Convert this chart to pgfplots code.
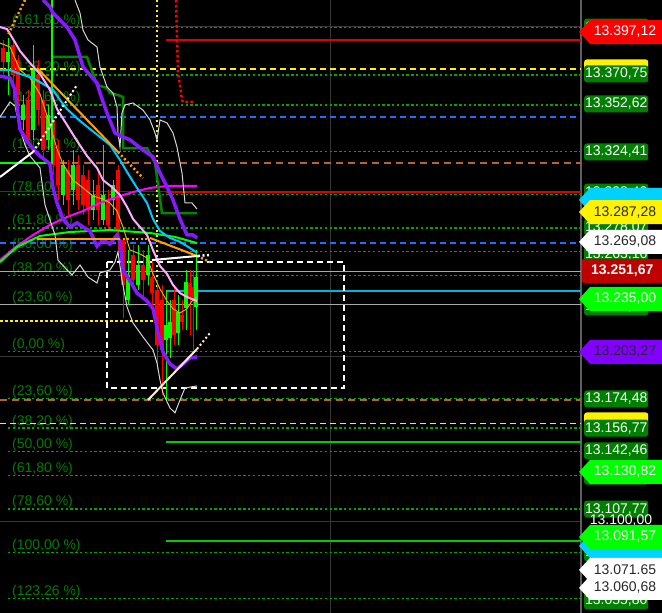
\documentclass[border=0pt]{standalone}
\usepackage{pgfplots}
\pgfplotsset{compat=1.18}
\usepackage{fontspec}
\setmainfont{Liberation Sans}
\definecolor{fibline}{RGB}{0,165,0}
\definecolor{fibtext}{RGB}{0,125,0}
\definecolor{tagG}{RGB}{0,128,0}
\definecolor{brightG}{RGB}{0,255,0}
\definecolor{candR}{RGB}{255,0,0}
\definecolor{purp}{RGB}{135,25,255}
\definecolor{cyanL}{RGB}{0,200,255}
\definecolor{pinkL}{RGB}{255,170,255}
\definecolor{magL}{RGB}{255,0,255}
\definecolor{dkG}{RGB}{0,135,0}
\definecolor{goldL}{RGB}{230,180,0}
\definecolor{orangeL}{RGB}{255,160,0}
\definecolor{whiteL}{RGB}{215,215,215}
\definecolor{brownD}{RGB}{180,100,50}
\definecolor{blueD}{RGB}{30,110,255}
\definecolor{gridG}{RGB}{55,55,55}
\definecolor{lgray}{RGB}{170,170,170}
\definecolor{redL}{RGB}{220,0,0}
\definecolor{darkred}{RGB}{190,0,0}
\definecolor{tagCyan}{RGB}{0,210,255}
\definecolor{tagPurple}{RGB}{130,0,255}
\definecolor{cyanH}{RGB}{0,180,210}
\definecolor{tagText}{RGB}{40,40,40}
\newcommand{\tagfont}{\fontsize{14pt}{16pt}\selectfont}
\tikzset{gtag/.style={anchor=west, fill=tagG, rounded corners=2.5pt, minimum width=64pt, minimum height=17pt, inner sep=0pt, text=white, font=\tagfont}}
\newcommand{\gtag}[2]{\node[gtag] at ([xshift=3pt]axis cs:581,#1) {#2};}
\newcommand{\ytag}[1]{\node[gtag, fill=yellow] at ([xshift=3pt]axis cs:581,#1) {};}
\newcommand{\atag}[4]{%
 \fill[#2] ([xshift=-2pt]axis cs:581,#1) -- ++(11pt,12pt) -- ++(72pt,0pt) -- ++(0pt,-24pt) -- ++(-72pt,0pt) -- cycle;
 \node[text=#3, font=\tagfont, anchor=center] at ([xshift=44pt]axis cs:581,#1) {#4};}
\newcommand{\fib}[2]{%
 \addplot[fibline, line width=1.2pt, dash pattern=on 2.4pt off 2.4pt] coordinates {(8,#1) (581,#1)};
 \node[text=fibtext, anchor=base west, font=\tagfont, inner sep=0pt] at ([yshift=3pt]axis cs:12,#1) {#2};}
\begin{document}
\begin{tikzpicture}
\fill[black] (0,0) rectangle (662pt,613pt);
\begin{axis}[at={(0pt,0pt)}, anchor=south west, scale only axis, width=581pt, height=613pt,
  xmin=0, xmax=581, ymin=13044.7, ymax=13416.2, axis lines=none, xtick=\empty, ytick=\empty, clip=false]
% grid
\addplot[gridG, line width=1pt] coordinates {(0,13400) (581,13400)};
\addplot[gridG, line width=1pt] coordinates {(0,13300) (581,13300)};
\addplot[gridG, line width=1pt] coordinates {(0,13200) (581,13200)};
\addplot[gridG, line width=1pt] coordinates {(0,13100) (581,13100)};
\addplot[gridG, line width=1pt] coordinates {(330,13044.7) (330,13416.2)};
\addplot[gridG!80!white, line width=1.5pt] coordinates {(581,13044.7) (581,13416.2)};
% fib levels
\fib{13399.5}{(161,80 \%)}
\fib{13370.75}{(138,20 \%)}
\fib{13352.62}{(123,60 \%)}
\fib{13324.41}{(100,00 \%)}
\fib{13298.4}{(78,60 \%)}
\fib{13278.07}{(61,80 \%)}
\fib{13263.7}{(50,00 \%)}
\fib{13249.3}{(38,20 \%)}
\fib{13231.6}{(23,60 \%)}
\fib{13203.0}{(0,00 \%)}
\fib{13174.48}{(23,60 \%)}
\fib{13156.77}{(38,20 \%)}
\fib{13142.46}{(50,00 \%)}
\fib{13128.0}{(61,80 \%)}
\fib{13107.77}{(78,60 \%)}
\fib{13081.3}{(100,00 \%)}
\fib{13053.5}{(123,26 \%)}
% horizontal level lines
\addplot[lgray, line width=1pt] coordinates {(0,13251.4) (581,13251.4)};
\addplot[lgray, line width=1pt] coordinates {(0,13231.4) (581,13231.4)};
\addplot[yellow, line width=1.2pt, dash pattern=on 6pt off 4pt] coordinates {(0,13374.4) (581,13374.4)};
\addplot[yellow, line width=1.2pt, dash pattern=on 6pt off 4pt] coordinates {(0,13159.5) (581,13159.5)};
\addplot[blueD, line width=1.2pt, dash pattern=on 6pt off 4pt] coordinates {(0,13345.3) (581,13345.3)};
\addplot[blueD, line width=1.2pt, dash pattern=on 6pt off 4pt] coordinates {(0,13268.9) (581,13268.9)};
\addplot[brownD, line width=2pt, dash pattern=on 7pt off 5pt] coordinates {(0,13317.4) (581,13317.4)};
\addplot[brownD, line width=2pt, dash pattern=on 7pt off 5pt] coordinates {(0,13173.8) (581,13173.8)};
\addplot[redL, line width=2pt] coordinates {(166,13392.0) (581,13392.0)};
\addplot[redL, line width=2pt] coordinates {(166,13299.8) (581,13299.8)};
\addplot[cyanH, line width=2.5pt] coordinates {(166,13239.9) (581,13239.9)};
\addplot[brightG!80!black, line width=2pt] coordinates {(166,13148.4) (581,13148.4)};
\addplot[brightG!80!black, line width=2pt] coordinates {(166,13088.3) (581,13088.3)};
\addplot[white, line width=1.2pt, dash pattern=on 6pt off 4pt] coordinates {(107,13257.4) (344,13257.4) (344,13181.1) (107,13181.1) (107,13257.4)};
% yellow dotted cross
\addplot[yellow, line width=2.5pt, dash pattern=on 2.5pt off 2.5pt] coordinates {(157,13416.2) (157,13221.7) (0,13221.7)};
% red dotted curve
\addplot[candR, line width=2.5pt, dash pattern=on 2.5pt off 2.5pt] coordinates {(176,13416.2) (178,13372.0) (180,13364.7) (182,13355.6) (183,13354.4) (195,13354.4)};
% candles
\addplot[candR, line width=1pt, unbounded coords=jump] coordinates {
(3,13392.0)(3,13370.8)(3,nan)(13,13390.7)(13,13355.6)(13,nan)(18,13382.9)(18,13352.6)(18,nan)
(28,13361.7)(28,13328.3)(28,nan)(38,13379.8)(38,13340.5)(38,nan)(43,13361.7)(43,13319.2)(43,nan)
(53,13346.5)(53,13310.2)(53,nan)(58,13331.4)(58,13295.0)(58,nan)(68,13319.2)(68,13285.9)(68,nan)
(78,13322.3)(78,13288.9)(78,nan)(83,13316.2)(83,13285.9)(83,nan)(88,13313.2)(88,13279.9)(88,nan)
(98,13313.2)(98,13279.9)(98,nan)(108,13301.1)(108,13276.8)(108,nan)(118,13316.2)(118,13264.7)(118,nan)
(123,13270.8)(123,13223.5)(123,nan)(133,13267.7)(133,13240.5)(133,nan)(143,13264.7)(143,13234.4)(143,nan)
(152,13258.6)(152,13231.4)(152,nan)(157,13246.5)(157,13192.0)(157,nan)(162,13243.5)(162,13176.8)(162,nan)
(174,13243.5)(174,13207.1)(174,nan)(182,13234.4)(182,13216.2)(182,nan)(190,13252.6)(190,13213.2)(190,nan)
(193,13252.6)(193,13204.1)};
\addplot[candR, line width=3.2pt, unbounded coords=jump] coordinates {
(3,13387.1)(3,13378.6)(3,nan)(13,13388.9)(13,13370.8)(13,nan)(18,13379.8)(18,13358.6)(18,nan)
(28,13355.6)(28,13331.4)(28,nan)(38,13370.8)(38,13349.5)(38,nan)(43,13355.6)(43,13325.3)(43,nan)
(53,13343.5)(53,13316.2)(53,nan)(58,13325.3)(58,13304.1)(58,nan)(68,13313.2)(68,13295.0)(68,nan)
(78,13316.2)(78,13295.0)(78,nan)(83,13310.2)(83,13292.0)(83,nan)(88,13307.1)(88,13288.9)(88,nan)
(98,13304.1)(98,13288.9)(98,nan)(108,13295.0)(108,13279.9)(108,nan)(118,13313.2)(118,13276.8)(118,nan)
(123,13270.8)(123,13243.5)(123,nan)(133,13261.7)(133,13246.5)(133,nan)(143,13255.6)(143,13246.5)(143,nan)
(152,13248.3)(152,13238.6)(152,nan)(157,13240.5)(157,13207.1)(157,nan)(162,13234.4)(162,13204.1)(162,nan)
(174,13234.4)(174,13213.2)(174,nan)(182,13225.3)(182,13221.1)(182,nan)(190,13244.7)(190,13236.2)(190,nan)
(193,13242.3)(193,13234.4)};
\addplot[brightG, line width=1pt, unbounded coords=jump] coordinates {
(8,13393.2)(8,13358.6)(8,nan)(23,13358.6)(23,13337.4)(23,nan)(33,13388.9)(33,13331.4)(33,nan)
(48,13352.6)(48,13325.3)(48,nan)(63,13319.2)(63,13292.0)(63,nan)(73,13325.3)(73,13292.0)(73,nan)
(93,13307.1)(93,13282.9)(93,nan)(103,13328.3)(103,13279.9)(103,nan)(113,13307.1)(113,13285.9)(113,nan)
(128,13264.7)(128,13231.4)(128,nan)(138,13267.7)(138,13240.5)(138,nan)(148,13267.7)(148,13243.5)(148,nan)
(166,13240.5)(166,13173.8)(166,nan)(170,13234.4)(170,13199.3)(170,nan)(178,13237.4)(178,13207.1)(178,nan)
(186,13252.6)(186,13216.2)(186,nan)(196,13264.7)(196,13216.2)};
\addplot[brightG, line width=3.2pt, unbounded coords=jump] coordinates {
(8,13384.7)(8,13378.6)(8,nan)(23,13352.6)(23,13343.5)(23,nan)(33,13373.8)(33,13337.4)(33,nan)
(48,13346.5)(48,13331.4)(48,nan)(63,13316.2)(63,13298.0)(63,nan)(73,13316.2)(73,13301.1)(73,nan)
(93,13298.0)(93,13288.9)(93,nan)(103,13298.0)(103,13282.9)(103,nan)(113,13304.1)(113,13295.0)(113,nan)
(128,13249.6)(128,13234.4)(128,nan)(138,13255.6)(138,13243.5)(138,nan)(148,13261.7)(148,13249.6)(148,nan)
(166,13219.3)(166,13210.2)(166,nan)(170,13221.1)(170,13211.4)(170,nan)(178,13227.1)(178,13214.4)(178,nan)
(186,13245.3)(186,13229.6)(186,nan)(196,13248.3)(196,13230.2)};
% indicator lines
\addplot[magL, line width=2pt] coordinates {(0,13258.6)(17,13267.1)(33,13273.8)(50,13279.9)(67,13284.7)(83,13288.3)(100,13293.2)(117,13296.8)(133,13299.8)(150,13302.3)(167,13303.5)(197,13303.5)};
\addplot[brightG, line width=2pt] coordinates {(0,13257.4)(17,13266.5)(40,13273.2)(70,13275.6)(110,13276.8)(150,13275.0)(175,13272.6)(197,13268.9)};
\addplot[dkG, line width=2.5pt] coordinates {(53,13381.7)(87,13381.7)(97,13364.7)(107,13362.9)(110,13359.8)(118,13358.6)(123,13357.4)(123,13326.5)(147,13326.5)(155,13317.4)(162,13287.1)(197,13287.1)};
\addplot[brightG, line width=2pt] coordinates {(0,13317.4)(52,13317.4)(52,13416.2)};
\addplot[whiteL, line width=1pt] coordinates {(75,13416.2)(80,13408.3)(83,13398.0)(88,13392.0)(97,13387.7)(100,13375.6)(107,13363.5)(113,13359.8)(117,13351.4)(118,13335.6)(120,13327.1)(122,13347.7)(125,13352.6)(133,13353.8)(143,13349.5)(150,13343.5)(155,13335.6)(157,13331.4)(160,13343.5)(167,13341.7)(173,13335.6)(177,13327.1)(182,13311.4)(185,13293.2)(192,13293.2)(197,13289.5)};
\addplot[whiteL, line width=1pt] coordinates {(0,13345.3)(10,13354.4)(15,13352.0)(20,13338.0)(25,13328.3)(30,13321.7)(40,13314.4)(45,13292.0)(50,13282.9)(55,13273.8)(58,13258.6)(67,13252.6)(72,13249.6)(80,13255.6)(88,13248.3)(97,13244.7)(100,13250.8)(110,13252.6)(115,13257.4)(118,13263.5)(122,13246.5)(127,13230.2)(133,13220.5)(143,13212.0)(153,13204.1)(157,13196.2)(160,13185.9)(163,13178.0)(170,13168.9)(175,13166.0)(180,13173.8)(185,13181.1)(197,13182.3)};
\addplot[goldL, line width=1pt] coordinates {(0,13390.1)(10,13387.7)(20,13373.8)(30,13368.9)(40,13359.2)(50,13340.5)(57,13325.9)(63,13316.8)(73,13307.1)(83,13302.3)(93,13297.4)(103,13295.6)(110,13293.2)(117,13288.3)(123,13278.6)(130,13264.7)(140,13262.3)(147,13259.9)(153,13250.2)(160,13241.1)(167,13233.8)(173,13229.1)(180,13226.5)(187,13229.1)(192,13233.8)(197,13236.2)};
\addplot[cyanL, line width=2pt] coordinates {(0,13373.8)(10,13373.8)(20,13371.4)(33,13368.9)(43,13365.3)(53,13361.7)(60,13355.6)(67,13350.1)(80,13342.9)(90,13338.0)(100,13333.2)(110,13328.3)(120,13319.2)(127,13312.0)(137,13302.3)(147,13293.2)(153,13283.5)(160,13276.2)(170,13272.0)(180,13269.6)(190,13265.9)(197,13262.9)};
\addplot[pinkL, line width=2pt] coordinates {(0,13399.8)(7,13398.6)(13,13392.6)(20,13385.3)(30,13378.0)(40,13371.4)(50,13361.7)(57,13350.1)(67,13340.5)(77,13330.8)(87,13321.7)(97,13314.4)(103,13307.1)(113,13302.3)(120,13298.0)(127,13290.8)(133,13283.5)(140,13278.6)(147,13273.8)(153,13264.7)(160,13255.0)(167,13250.2)(173,13243.5)(180,13238.6)(187,13236.2)(192,13235.0)(197,13233.8)};
\addplot[purp, line width=3.5pt] coordinates {(43,13416.2)(50,13412.0)(53,13408.3)(67,13399.8)(75,13392.0)(83,13375.6)(97,13365.9)(100,13359.8)(107,13347.7)(115,13335.6)(123,13333.2)(130,13331.4)(143,13325.3)(153,13321.1)(160,13311.4)(167,13302.9)(173,13295.0)(180,13283.5)(187,13273.8)(193,13273.8)(197,13272.0)};
\addplot[purp, line width=3.5pt] coordinates {(0,13370.1)(10,13368.9)(15,13361.7)(20,13338.0)(27,13330.8)(33,13325.9)(40,13321.7)(50,13316.8)(53,13302.3)(57,13293.2)(63,13283.5)(70,13278.6)(77,13281.1)(83,13278.6)(90,13276.2)(97,13267.1)(103,13270.8)(110,13268.3)(117,13273.8)(120,13269.6)(123,13252.6)(130,13245.9)(137,13238.6)(147,13233.8)(153,13229.1)(158,13215.0)(163,13202.9)(170,13195.6)(177,13192.6)(183,13195.6)(190,13199.3)(197,13199.9)};
% trend lines
\addplot[orangeL, line width=2pt] coordinates {(37,13375.0)(118,13324.1)};
\addplot[orangeL, line width=2.5pt, dash pattern=on 2pt off 2.5pt] coordinates {(118,13324.1)(143,13308.3)};
\addplot[orangeL, line width=2pt] coordinates {(37,13271.4)(118,13271.4)};
\addplot[orangeL, line width=2.5pt, dash pattern=on 2pt off 2.5pt] coordinates {(118,13271.4)(147,13271.4)};
\addplot[orangeL, line width=2pt] coordinates {(150,13272.0)(197,13261.1)};
\addplot[orangeL, line width=2.5pt, dash pattern=on 2pt off 2.5pt] coordinates {(197,13261.1)(210,13257.4)};
\addplot[orangeL, line width=2.5pt, dash pattern=on 2pt off 2.5pt] coordinates {(25,13416.2)(8,13395.0)};
\addplot[white, line width=2pt] coordinates {(152,13258.6)(198,13261.1)};
\addplot[white, line width=2.5pt, dash pattern=on 2pt off 2.5pt] coordinates {(198,13261.1)(210,13261.7)};
\addplot[white, line width=2pt] coordinates {(0,13308.9)(33,13324.1)};
\addplot[white, line width=2pt, dash pattern=on 2pt off 2.5pt] coordinates {(33,13324.1)(77,13364.7)};
\addplot[white!85!orange, line width=2pt] coordinates {(148,13173.8)(197,13204.7)};
\addplot[white!85!orange, line width=2pt, dash pattern=on 2pt off 2.5pt] coordinates {(197,13204.7)(210,13214.4)};
% price tags
\gtag{13399.8}{13.399,50}
\ytag{13375.0}
\gtag{13371.4}{13.370,75}
\gtag{13353.2}{13.352,62}
\gtag{13324.1}{13.324,41}
\gtag{13299.8}{13.298,40}
\gtag{13278.6}{13.278,07}
\gtag{13261.7}{13.263,16}
\gtag{13230.2}{13.231,60}
\gtag{13174.4}{13.174,48}
\ytag{13161.1}
\gtag{13156.8}{13.156,77}
\gtag{13142.9}{13.142,46}
\gtag{13127.7}{13.127,70}
\gtag{13107.7}{13.107,77}
\node[text=white, font=\tagfont] at ([xshift=40pt]axis cs:581,13100.5) {13.100,00};
\gtag{13081.1}{13.081,30}
\gtag{13052.0}{13.055,80}
\atag{13396.8}{candR}{white}{13.397,12}
\atag{13295.0}{tagCyan}{tagText}{}
\atag{13287.7}{yellow}{tagText}{13.287,28}
\atag{13269.6}{white}{tagText}{13.269,08}
\node[anchor=west, fill=darkred, rounded corners=1pt, minimum width=80pt, minimum height=24pt, inner sep=0pt, text=white, font=\bfseries\tagfont] at ([xshift=1pt]axis cs:581,13252.0) {13.251,67};
\atag{13235.0}{brightG}{white}{13.235,00}
\atag{13202.9}{tagPurple}{tagText}{13.203,27}
\atag{13130.2}{brightG}{white}{13.130,82}
\atag{13085.3}{tagCyan}{tagText}{}
\atag{13090.8}{brightG}{white}{13.091,57}
\atag{13070.8}{white}{tagText}{13.071.65}
\atag{13059.9}{white}{tagText}{13.060,68}
\end{axis}
\pgfresetboundingbox
\path[use as bounding box] (0,0) rectangle (662pt,613pt);
\end{tikzpicture}
\end{document}
